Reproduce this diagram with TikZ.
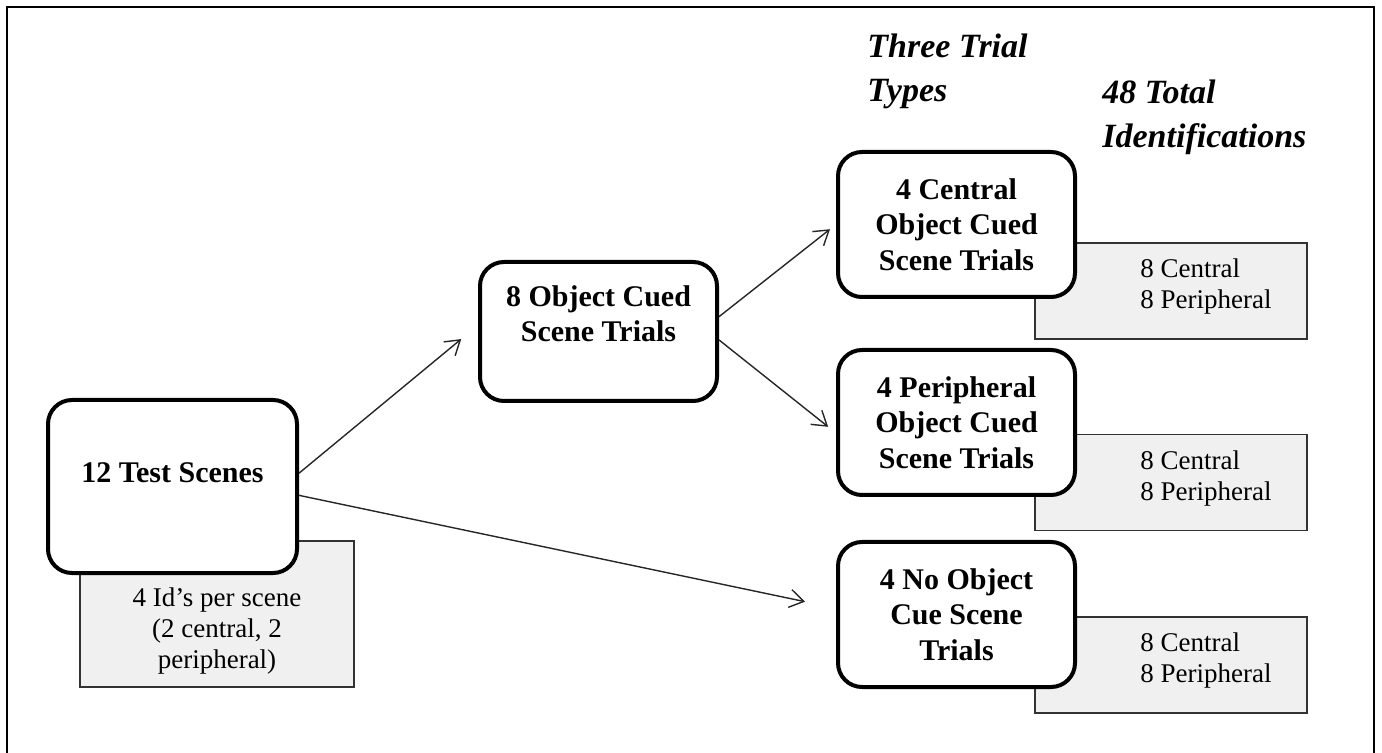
\documentclass[tikz,border=0pt]{standalone}
\usepackage{fontspec}
\setmainfont{Liberation Serif}
\usetikzlibrary{arrows.meta}

\begin{document}
\begin{tikzpicture}
		[x=0.5pt, y=-0.5pt,
		block/.style ={rectangle, draw=black, line width=2pt, fill=white, rounded corners=12pt, align=center, minimum width=118.5pt, font=\bfseries\fontsize{15}{17.75}\selectfont},
		idbox/.style ={rectangle, draw=black!80, line width=0.9pt, fill=black!6, minimum width=136pt, minimum height=48pt},
		idtext/.style ={align=left, font=\fontsize{13.5}{15.5}\selectfont},
		heading/.style ={align=left, anchor=north west, inner sep=0pt, font=\bfseries\itshape\fontsize{17}{22}\selectfont},
		line/.style ={draw=black!85, line width=0.7pt, -{Straight Barb[length=7pt, width=9pt]}},
		frame/.style ={draw=black, line width=1.1pt},
		]
		\useasboundingbox (0,0) rectangle (1382,753);
		\draw[frame] (7,753) -- (7,7) -- (1374,7) -- (1374,753);

		\draw (867,34) node[heading] (types) {Three Trial\\Types};
		\draw (1102,80) node[heading] (total) {48 Total\\Identifications};

		% grey boxes first, the trial boxes sit on top of them
		\draw (217,614) node[idbox, minimum width=137pt, minimum height=73pt] (ids) {};
		\draw (217,631.5) node[idtext, align=center] (idstxt) {4 Id's per scene\\(2 central, 2\\peripheral)};
		\draw (1171,291) node[idbox] (cid) {};
		\draw (1171,482.5) node[idbox] (pid) {};
		\draw (1171,665) node[idbox] (nid) {};
		\draw (1140,287) node[idtext, anchor=west, inner xsep=0pt] (cidtxt) {8 Central\\8 Peripheral};
		\draw (1140,478.5) node[idtext, anchor=west, inner xsep=0pt] (pidtxt) {8 Central\\8 Peripheral};
		\draw (1140,661) node[idtext, anchor=west, inner xsep=0pt] (nidtxt) {8 Central\\8 Peripheral};

		\draw (172.5,486.5) node[block, minimum width=124.5pt, minimum height=86.5pt] (test) {12 Test Scenes\\[-4pt]\mbox{}};
		\draw (598.5,331.5) node[block, minimum height=69.5pt] (obj) {8 Object Cued\\Scene Trials\\\mbox{}};
		\draw (956.5,224.5) node[block, minimum height=72.5pt] (central) {4 Central\\Object Cued\\Scene Trials};
		\draw (956.5,422.5) node[block, minimum height=72.5pt] (periph) {4 Peripheral\\Object Cued\\Scene Trials};
		\draw (956.5,614.5) node[block, minimum height=72.5pt] (noobj) {4 No Object\\Cue Scene\\Trials};

		\path
		(test.6.6) edge[line, shorten >=10.9pt] (obj.177.8)
		(test.-4.8) edge[line, shorten >=15.8pt] (noobj.177)
		(obj.7) edge[line, shorten >=3.8pt] (central.180)
		(obj.-4.6) edge[line, shorten >=5pt] (periph.185.5);
	\end{tikzpicture}
\end{document}
